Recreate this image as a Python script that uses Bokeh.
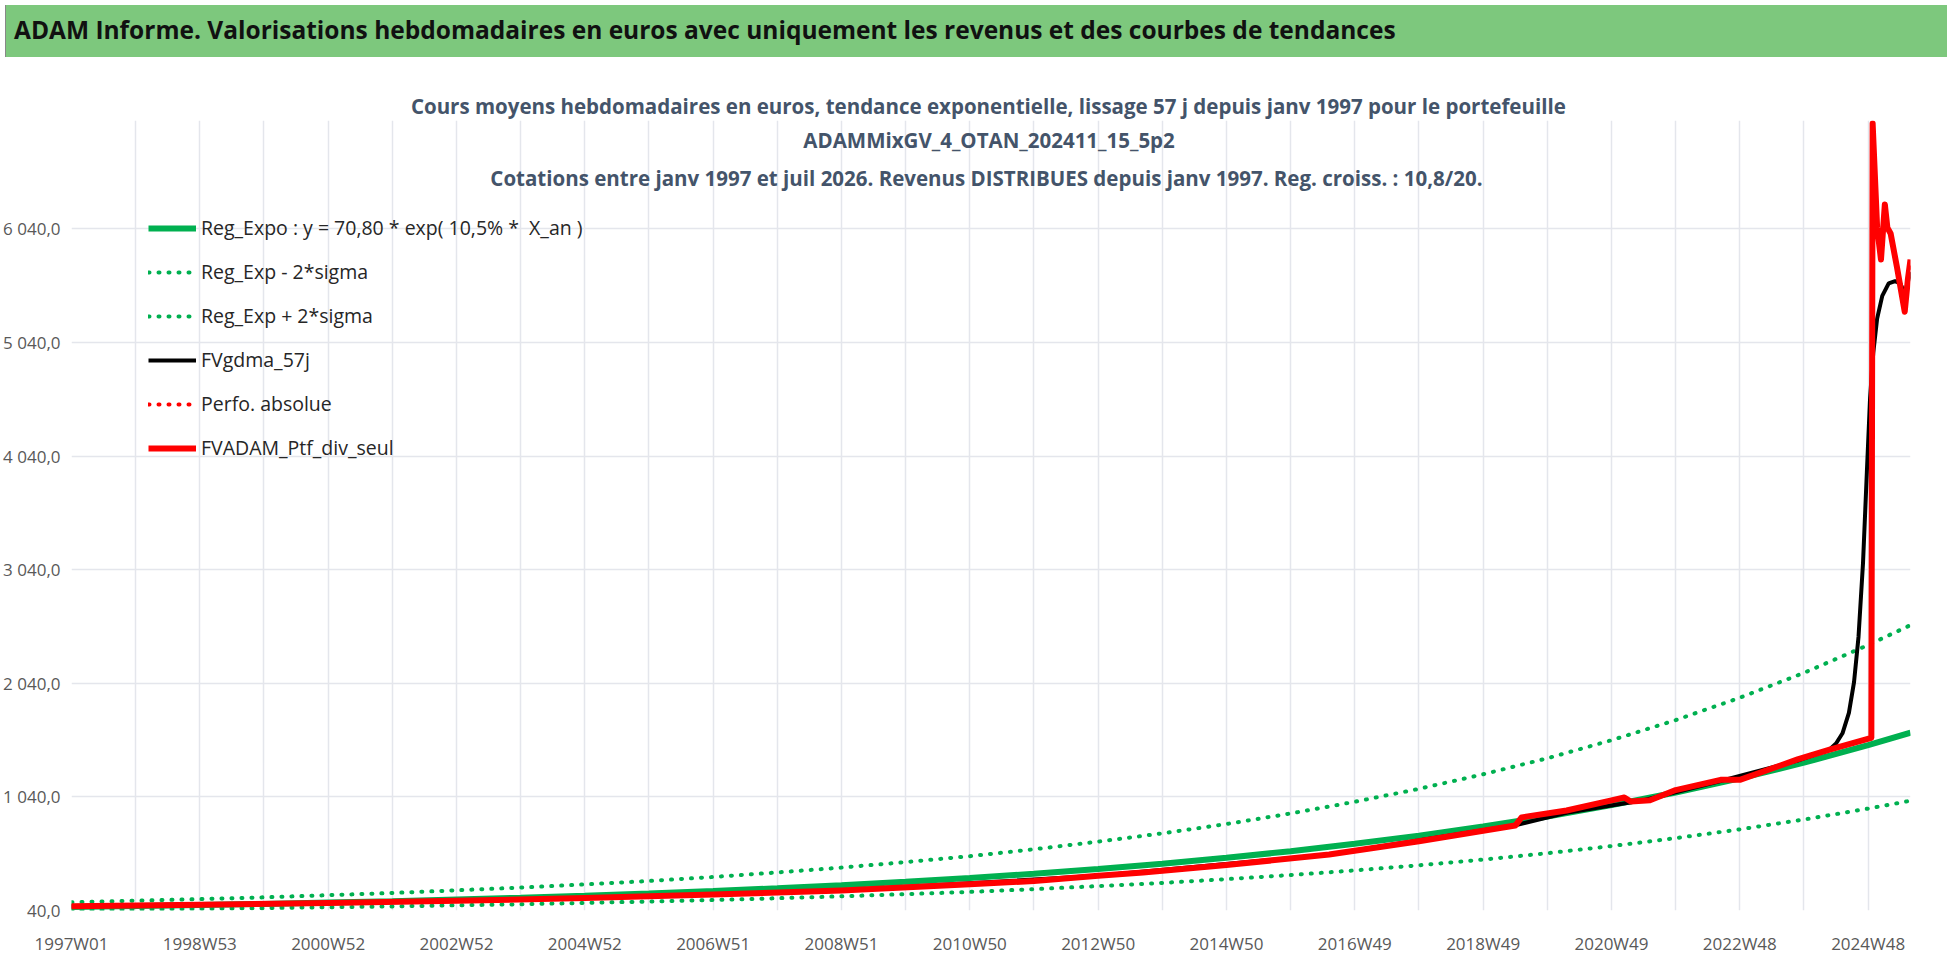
from bokeh.plotting import figure
from bokeh.models import (Legend, LegendItem, Label, FixedTicker, Div, Range1d, Title)
from bokeh.layouts import column
from bokeh.embed import file_html
from bokeh.resources import INLINE

# ---- data ----
trend_x = [1997, 1998, 1999, 2000, 2001, 2002, 2003, 2004, 2005, 2006, 2007, 2008, 2009, 2010, 2011,
           2012, 2013, 2014, 2015, 2016, 2017, 2018, 2019, 2020, 2021, 2022, 2023, 2024, 2025, 2025.66]
reg_expo = [71, 79, 88, 98, 110, 122, 137, 152, 170, 189, 211, 236, 263, 293, 326,
            364, 406, 452, 504, 562, 627, 699, 779, 868, 968, 1079, 1203, 1341, 1495, 1605]
reg_minus = [45, 50, 55, 61, 69, 76, 86, 95, 107, 119, 132, 148, 165, 184, 204,
             228, 255, 283, 316, 352, 393, 438, 488, 544, 607, 677, 754, 841, 937, 1006]
reg_plus = [113, 126, 140, 156, 175, 194, 218, 242, 270, 300, 335, 375, 418, 466, 518,
            579, 646, 719, 801, 894, 997, 1111, 1239, 1380, 1539, 1716, 1913, 2132, 2377, 2552]

ptf_x = [1997, 1999, 2001, 2003, 2005, 2007, 2009, 2011, 2012, 2013, 2013.7, 2015, 2016.6, 2018,
         2019.5, 2019.6, 2020.3, 2021.0, 2021.2, 2021.3, 2021.6, 2022.0, 2022.7, 2023.0, 2023.9, 2024.4,
         2025.05, 2025.07, 2025.14, 2025.2, 2025.26, 2025.3, 2025.35, 2025.45, 2025.57, 2025.62, 2025.66]
ptf_div = [78, 90, 105, 125, 150, 180, 215, 270, 300, 345, 375, 440, 533, 650,
           788, 860, 920, 1010, 1035, 1000, 1010, 1100, 1190, 1190, 1370, 1457,
           1560, 6968, 6050, 5770, 6255, 6050, 6000, 5700, 5310, 5600, 5770]
fvg_x = [1997, 2001, 2005, 2009, 2013, 2016.6, 2019.5, 2020.3, 2021.5, 2022.7, 2023.9, 2024.4, 2024.5,
         2024.6, 2024.7, 2024.78, 2024.85, 2024.92, 2024.98, 2025.03, 2025.08, 2025.14, 2025.22,
         2025.32, 2025.42, 2025.5, 2025.57, 2025.66]
fvgdma = [78, 105, 150, 215, 345, 533, 790, 900, 1010, 1180, 1360, 1457, 1510,
          1600, 1780, 2050, 2450, 3100, 3900, 4550, 4950, 5250, 5450,
          5560, 5580, 5560, 5470, 5660]

title_lines = ["Cours moyens hebdomadaires  en euros, tendance exponentielle, lissage 57 j depuis janv 1997 pour le portefeuille",
               "ADAMMixGV_4_OTAN_202411_15_5p2",
               "Cotations  entre janv 1997 et juil 2026. Revenus DISTRIBUES depuis janv 1997. Reg. croiss. : 10,8/20."]
title_y = [6818, 6484]
x_tick_labels = ["1997W01", "1998W53", "2000W52", "2002W52", "2004W52", "2006W51", "2008W51", "2010W50",
                 "2012W50", "2014W50", "2016W49", "2018W49", "2020W49", "2022W48", "2024W48"]
y_ticks = [40, 1040, 2040, 3040, 4040, 5040, 6040]
y_tick_labels = ["40,0", "1 040,0", "2 040,0", "3 040,0", "4 040,0", "5 040,0", "6 040,0"]

FONT = "Open Sans"
TXT = "#44546A"

banner = Div(text="ADAM Informe. Valorisations hebdomadaires en euros avec uniquement les revenus et des courbes de tendances",
             width=1942, height=52,
             styles={"background-color": "#7DC87D", "font-family": "'Open Sans', sans-serif",
                     "font-size": "24.5px", "font-weight": "bold", "color": "#111111", "line-height": "50px",
                     "padding-left": "8px", "box-sizing": "border-box", "width": "1942px", "height": "52px",
                     "border-left": "1px solid #888888"})

p = figure(width=1942, height=910, output_backend="svg", toolbar_location=None,
           x_range=Range1d(1997, 2025.66), y_range=Range1d(40, 6994),
           min_border_left=64, min_border_right=32, min_border_top=58, min_border_bottom=62)
p.title = Title(text=title_lines[0], align="center", text_font=FONT, text_font_size="20.5px",
                text_font_style="bold", text_color=TXT, offset=0, standoff=2)
p.outline_line_color = None
p.background_fill_color = "white"
p.border_fill_color = "white"

years = list(range(1997, 2026))
p.xaxis.ticker = FixedTicker(ticks=years)
p.xaxis.major_label_overrides = {y: (x_tick_labels[(y - 1997) // 2] if (y - 1997) % 2 == 0 else "") for y in years}
p.yaxis.ticker = FixedTicker(ticks=y_ticks)
p.yaxis.major_label_overrides = dict(zip(y_ticks, y_tick_labels))
for ax in (p.xaxis, p.yaxis):
    ax.axis_line_color = None
    ax.major_tick_line_color = None
    ax.minor_tick_line_color = None
    ax.major_label_text_font = FONT
    ax.major_label_text_color = "#595959"
    ax.major_label_text_font_size = "17px"
p.xaxis.major_label_standoff = 15
p.yaxis.major_label_standoff = 5
p.xgrid.grid_line_color = "#E4E6EC"
p.ygrid.grid_line_color = "#E4E6EC"
p.xgrid.grid_line_width = 1.5
p.ygrid.grid_line_width = 1.5

g = "#00B050"
r_reg = p.line(trend_x, reg_expo, line_color=g, line_width=6)
r_minus = p.line(trend_x, reg_minus, line_color=g, line_width=4, line_dash="1 9", line_cap="round")
r_plus = p.line(trend_x, reg_plus, line_color=g, line_width=4, line_dash="1 9", line_cap="round")
r_fvg = p.line(fvg_x, fvgdma, line_color="black", line_width=4, line_join="round")
r_abs = p.line(ptf_x, ptf_div, line_color="red", line_width=4, line_dash="1 9", line_cap="round")
r_div = p.line(ptf_x, ptf_div, line_color="red", line_width=6, line_join="round")

legend = Legend(items=[
    LegendItem(label="Reg_Expo : y = 70,80 * exp( 10,5% *  X_an )", renderers=[r_reg]),
    LegendItem(label="Reg_Exp - 2*sigma", renderers=[r_minus]),
    LegendItem(label="Reg_Exp + 2*sigma", renderers=[r_plus]),
    LegendItem(label="FVgdma_57j", renderers=[r_fvg]),
    LegendItem(label="Perfo. absolue", renderers=[r_abs]),
    LegendItem(label="FVADAM_Ptf_div_seul", renderers=[r_div]),
], location=(77, 449), orientation="vertical", border_line_color=None, background_fill_alpha=0,
   label_text_font=FONT, label_text_font_size="19.5px", label_text_color="#262626",
   glyph_width=48, glyph_height=20, spacing=17, label_standoff=5, padding=10, margin=0)
p.add_layout(legend)

for t, y in zip(title_lines[1:], title_y):
    p.add_layout(Label(x=2011.3, y=y, text=t, text_align="center", text_baseline="middle",
                       text_font=FONT, text_font_size="20.5px", text_font_style="bold", text_color=TXT))

out = column(banner, p, spacing=0)
open("out.html", "w").write(file_html(out, INLINE))
